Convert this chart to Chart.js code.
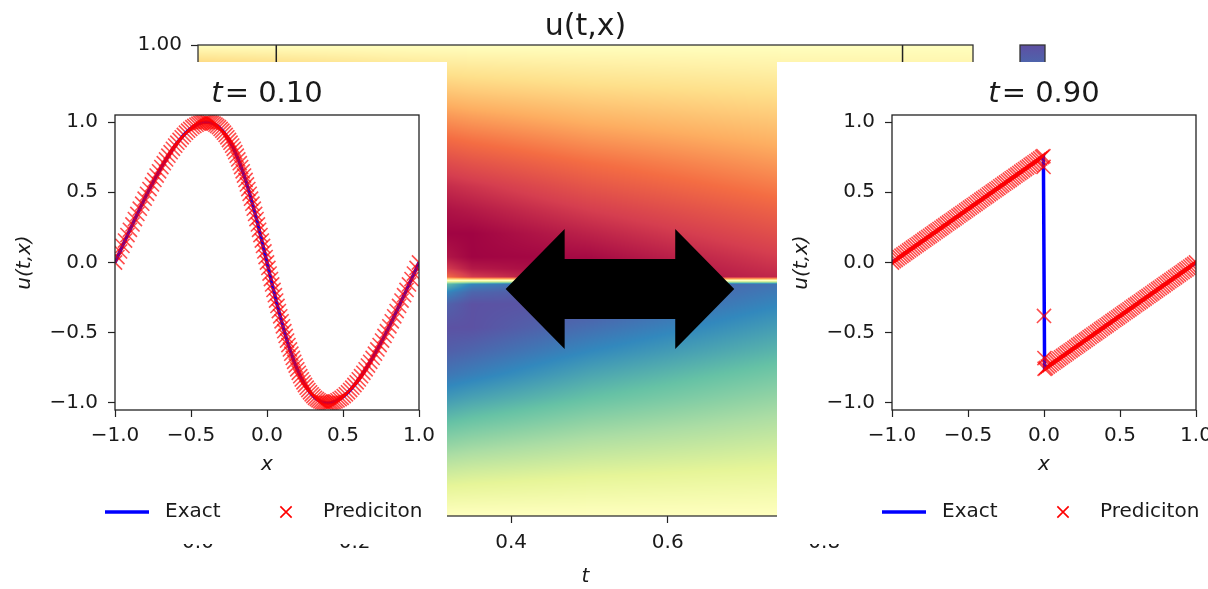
<!DOCTYPE html>
<html>
<head>
<meta charset="utf-8">
<script src="https://cdn.jsdelivr.net/npm/chart.js@4.4.1/dist/chart.umd.min.js"></script>
<style>
  body { margin: 0; background: #fff; }
  #page { position: relative; width: 1208px; height: 589px; overflow: hidden; background: #fff; }
  #heat { position: absolute; left: 0; top: 0; }
  .panel { position: absolute; top: 62px; width: 447px; height: 482px; background: #fff; }
</style>
</head>
<body>
<div id="page">
  <canvas id="heat" width="1208" height="589"></canvas>
  <div class="panel" style="left:0"><canvas id="snapA" width="447" height="482"></canvas></div>
  <div class="panel" style="left:777px"><canvas id="snapB" width="447" height="482"></canvas></div>
</div>
<script>
// u(t,x) grid: columns are t, rows are x from top (1) to bottom (-1)
const heatT = [0.0, 0.25, 0.35, 0.5, 0.75, 0.99];
const heatX = [1.0, 0.9, 0.8, 0.7, 0.6, 0.5, 0.4, 0.3, 0.2, 0.1, 0.05, 0.015,
               -0.015, -0.05, -0.1, -0.2, -0.3, -0.4, -0.5, -0.6, -0.7, -0.8, -0.9, -1.0];
const heatU = [
  [0.00, 0.00, 0.00, 0.00, 0.00, 0.00],
  [-0.31, -0.18, -0.15, -0.12, -0.09, -0.08],
  [-0.59, -0.35, -0.29, -0.24, -0.19, -0.16],
  [-0.81, -0.52, -0.44, -0.36, -0.28, -0.23],
  [-0.95, -0.67, -0.58, -0.48, -0.37, -0.31],
  [-1.00, -0.81, -0.71, -0.60, -0.46, -0.38],
  [-0.95, -0.92, -0.83, -0.70, -0.55, -0.45],
  [-0.81, -0.99, -0.92, -0.80, -0.64, -0.53],
  [-0.59, -0.99, -0.99, -0.89, -0.72, -0.60],
  [-0.31, -0.81, -0.99, -0.97, -0.80, -0.68],
  [-0.16, -0.57, -0.92, -0.99, -0.84, -0.71],
  [-0.05, -0.21, -0.81, -0.98, -0.87, -0.73],
  [0.05, 0.21, 0.81, 0.98, 0.87, 0.73],
  [0.16, 0.57, 0.92, 0.99, 0.84, 0.71],
  [0.31, 0.81, 0.99, 0.97, 0.80, 0.68],
  [0.59, 0.99, 0.99, 0.89, 0.72, 0.60],
  [0.81, 0.99, 0.92, 0.80, 0.64, 0.53],
  [0.95, 0.92, 0.83, 0.70, 0.55, 0.45],
  [1.00, 0.81, 0.71, 0.60, 0.46, 0.38],
  [0.95, 0.67, 0.58, 0.48, 0.37, 0.31],
  [0.81, 0.52, 0.44, 0.36, 0.28, 0.23],
  [0.59, 0.35, 0.29, 0.24, 0.19, 0.16],
  [0.31, 0.18, 0.15, 0.12, 0.09, 0.08],
  [0.00, 0.00, 0.00, 0.00, 0.00, 0.00]
];
const uMin = -1.0, uMax = 1.0;
const heatTTicks = [0.0, 0.2, 0.4, 0.6, 0.8];
const heatXTicks = [-1.0, -0.75, -0.5, -0.25, 0.0, 0.25, 0.5, 0.75, 1.0];
const snapTimes = [0.10, 0.90];
const arrowT = [0.393, 0.685];
const arrowX = -0.036;

// snapshot t = 0.10
const x10 = [
  -1.0, -0.984, -0.967, -0.951, -0.934, -0.918, -0.902, -0.885, -0.869, -0.853, -0.837, -0.821, -0.805, -0.789, -0.773, -0.757, -0.741, -0.726, -0.710, -0.695,
  -0.679, -0.664, -0.649, -0.634, -0.619, -0.604, -0.590, -0.575, -0.561, -0.547, -0.533, -0.519, -0.505, -0.491, -0.478, -0.464, -0.451, -0.438, -0.425, -0.413,
  -0.400, -0.388, -0.375, -0.363, -0.351, -0.339, -0.328, -0.316, -0.305, -0.294, -0.283, -0.272, -0.261, -0.250, -0.240, -0.229, -0.219, -0.209, -0.199, -0.189,
  -0.179, -0.170, -0.160, -0.151, -0.141, -0.132, -0.123, -0.114, -0.105, -0.096, -0.087, -0.078, -0.069, -0.060, -0.052, -0.043, -0.034, -0.026, -0.017, -0.009,
  0.0,
  0.009, 0.017, 0.026, 0.034, 0.043, 0.052, 0.060, 0.069, 0.078, 0.087, 0.096, 0.105, 0.114, 0.123, 0.132, 0.141, 0.151, 0.160, 0.170, 0.179,
  0.189, 0.199, 0.209, 0.219, 0.229, 0.240, 0.250, 0.261, 0.272, 0.283, 0.294, 0.305, 0.316, 0.328, 0.339, 0.351, 0.363, 0.375, 0.388, 0.400,
  0.413, 0.425, 0.438, 0.451, 0.464, 0.478, 0.491, 0.505, 0.519, 0.533, 0.547, 0.561, 0.575, 0.590, 0.604, 0.619, 0.634, 0.649, 0.664, 0.679,
  0.695, 0.710, 0.726, 0.741, 0.757, 0.773, 0.789, 0.805, 0.821, 0.837, 0.853, 0.869, 0.885, 0.902, 0.918, 0.934, 0.951, 0.967, 0.984, 1.0];
const u10 = [
  0.0, 0.039, 0.079, 0.118, 0.156, 0.195, 0.233, 0.271, 0.309, 0.346, 0.383, 0.419, 0.454, 0.489, 0.523, 0.556, 0.588, 0.619, 0.649, 0.679,
  0.707, 0.734, 0.760, 0.785, 0.809, 0.832, 0.853, 0.872, 0.891, 0.908, 0.924, 0.938, 0.951, 0.963, 0.972, 0.981, 0.988, 0.993, 0.997, 0.999,
  1.0, 0.999, 0.997, 0.993, 0.988, 0.981, 0.972, 0.963, 0.951, 0.938, 0.924, 0.908, 0.891, 0.872, 0.853, 0.832, 0.809, 0.785, 0.760, 0.734,
  0.707, 0.679, 0.649, 0.619, 0.588, 0.556, 0.523, 0.489, 0.454, 0.419, 0.383, 0.346, 0.309, 0.271, 0.233, 0.195, 0.156, 0.118, 0.079, 0.039,
  0.0,
  -0.039, -0.079, -0.118, -0.156, -0.195, -0.233, -0.271, -0.309, -0.346, -0.383, -0.419, -0.454, -0.489, -0.523, -0.556, -0.588, -0.619, -0.649, -0.679, -0.707,
  -0.734, -0.760, -0.785, -0.809, -0.832, -0.853, -0.872, -0.891, -0.908, -0.924, -0.938, -0.951, -0.963, -0.972, -0.981, -0.988, -0.993, -0.997, -0.999, -1.0,
  -0.999, -0.997, -0.993, -0.988, -0.981, -0.972, -0.963, -0.951, -0.938, -0.924, -0.908, -0.891, -0.872, -0.853, -0.832, -0.809, -0.785, -0.760, -0.734, -0.707,
  -0.679, -0.649, -0.619, -0.588, -0.556, -0.523, -0.489, -0.454, -0.419, -0.383, -0.346, -0.309, -0.271, -0.233, -0.195, -0.156, -0.118, -0.079, -0.039, 0.0];

// snapshot t = 0.90
const x90 = [
  -1.0, -0.9875, -0.975, -0.9625, -0.95, -0.9375, -0.925, -0.9125, -0.9, -0.8875, -0.875, -0.8625, -0.85, -0.8375, -0.825, -0.8125, -0.8, -0.7875, -0.775, -0.7625,
  -0.75, -0.7375, -0.725, -0.7125, -0.7, -0.6875, -0.675, -0.6625, -0.65, -0.6375, -0.625, -0.6125, -0.6, -0.5875, -0.575, -0.5625, -0.55, -0.5375, -0.525, -0.5125,
  -0.5, -0.4875, -0.475, -0.4625, -0.45, -0.4375, -0.425, -0.4125, -0.4, -0.3875, -0.375, -0.3625, -0.35, -0.3375, -0.325, -0.3125, -0.3, -0.2875, -0.275, -0.2625,
  -0.25, -0.2375, -0.225, -0.2125, -0.2, -0.1875, -0.175, -0.1625, -0.15, -0.1375, -0.125, -0.1125, -0.1, -0.0875, -0.075, -0.0625, -0.05, -0.0375, -0.025, -0.0125,
  -0.004, 0.004,
  0.0125, 0.025, 0.0375, 0.05, 0.0625, 0.075, 0.0875, 0.1, 0.1125, 0.125, 0.1375, 0.15, 0.1625, 0.175, 0.1875, 0.2, 0.2125, 0.225, 0.2375, 0.25,
  0.2625, 0.275, 0.2875, 0.3, 0.3125, 0.325, 0.3375, 0.35, 0.3625, 0.375, 0.3875, 0.4, 0.4125, 0.425, 0.4375, 0.45, 0.4625, 0.475, 0.4875, 0.5,
  0.5125, 0.525, 0.5375, 0.55, 0.5625, 0.575, 0.5875, 0.6, 0.6125, 0.625, 0.6375, 0.65, 0.6625, 0.675, 0.6875, 0.7, 0.7125, 0.725, 0.7375, 0.75,
  0.7625, 0.775, 0.7875, 0.8, 0.8125, 0.825, 0.8375, 0.85, 0.8625, 0.875, 0.8875, 0.9, 0.9125, 0.925, 0.9375, 0.95, 0.9625, 0.975, 0.9875, 1.0];
const u90 = [
  0.0, 0.010, 0.019, 0.029, 0.038, 0.048, 0.057, 0.067, 0.076, 0.086, 0.095, 0.105, 0.114, 0.124, 0.133, 0.143, 0.152, 0.162, 0.171, 0.181,
  0.190, 0.200, 0.209, 0.219, 0.228, 0.238, 0.247, 0.257, 0.266, 0.276, 0.285, 0.295, 0.304, 0.314, 0.323, 0.333, 0.342, 0.352, 0.361, 0.371,
  0.380, 0.390, 0.399, 0.409, 0.418, 0.428, 0.437, 0.447, 0.456, 0.466, 0.475, 0.485, 0.494, 0.504, 0.513, 0.523, 0.532, 0.542, 0.551, 0.561,
  0.570, 0.580, 0.589, 0.599, 0.608, 0.618, 0.627, 0.637, 0.646, 0.656, 0.665, 0.675, 0.684, 0.694, 0.703, 0.713, 0.722, 0.732, 0.741, 0.751,
  0.757, -0.757,
  -0.751, -0.741, -0.732, -0.722, -0.713, -0.703, -0.694, -0.684, -0.675, -0.665, -0.656, -0.646, -0.637, -0.627, -0.618, -0.608, -0.599, -0.589, -0.580, -0.570,
  -0.561, -0.551, -0.542, -0.532, -0.523, -0.513, -0.504, -0.494, -0.485, -0.475, -0.466, -0.456, -0.447, -0.437, -0.428, -0.418, -0.409, -0.399, -0.390, -0.380,
  -0.371, -0.361, -0.352, -0.342, -0.333, -0.323, -0.314, -0.304, -0.295, -0.285, -0.276, -0.266, -0.257, -0.247, -0.238, -0.228, -0.219, -0.209, -0.200, -0.190,
  -0.181, -0.171, -0.162, -0.152, -0.143, -0.133, -0.124, -0.114, -0.105, -0.095, -0.086, -0.076, -0.067, -0.057, -0.048, -0.038, -0.029, -0.019, -0.010, 0.0];
// stray predictions inside the shock
const shockX90 = [-0.003, 0.0, 0.003];
const shockU90 = [0.68, -0.38, -0.68];

const panelTicks = [-1.0, -0.5, 0.0, 0.5, 1.0];

const TXT = '#1a1a1a';
const FONT = 'DejaVu Sans';
Chart.defaults.font.family = FONT;
Chart.defaults.font.size = 20;
Chart.defaults.color = TXT;

const SPECTRAL = [[158,1,66],[213,62,79],[244,109,67],[253,174,97],[254,224,139],[255,255,191],
                  [230,245,152],[171,221,164],[102,194,165],[50,136,189],[94,79,162]];

function spectral(v) {
  let n = (v - uMin) / (uMax - uMin);
  n = Math.max(0, Math.min(1, n)) * 10;
  const i = Math.min(9, Math.floor(n)), f = n - i;
  const a = SPECTRAL[i], b = SPECTRAL[i + 1];
  return [a[0] + (b[0] - a[0]) * f, a[1] + (b[1] - a[1]) * f, a[2] + (b[2] - a[2]) * f];
}

// where v sits inside a monotone array: [index, fraction]
function bracket(arr, v) {
  for (let i = 0; i < arr.length - 1; i++) {
    const a = arr[i], b = arr[i + 1];
    if ((v - a) * (v - b) <= 0) return [i, (v - a) / (b - a)];
  }
  const first = Math.abs(v - arr[0]) < Math.abs(v - arr[arr.length - 1]);
  return first ? [0, 0] : [arr.length - 2, 1];
}

function fmt(digits) {
  return v => (v < 0 ? '\u2212' : '') + Math.abs(v).toFixed(digits);
}

function pts(xs, ys) {
  return xs.map((x, i) => ({ x: x, y: ys[i] }));
}

const heatLayer = {
  id: 'heatLayer',
  beforeDatasetsDraw(chart) {
    const { ctx, chartArea: a, scales: { x, y } } = chart;
    const w = Math.round(a.right - a.left), h = Math.round(a.bottom - a.top);
    const off = document.createElement('canvas');
    off.width = w; off.height = h;
    const octx = off.getContext('2d');
    const img = octx.createImageData(w, h);
    const cols = [];
    for (let i = 0; i < w; i++) cols.push(bracket(heatT, x.getValueForPixel(a.left + i + 0.5)));
    for (let j = 0; j < h; j++) {
      const [r, fr] = bracket(heatX, y.getValueForPixel(a.top + j + 0.5));
      for (let i = 0; i < w; i++) {
        const [c, fc] = cols[i];
        const top = heatU[r][c] + (heatU[r][c + 1] - heatU[r][c]) * fc;
        const bot = heatU[r + 1][c] + (heatU[r + 1][c + 1] - heatU[r + 1][c]) * fc;
        const rgb = spectral(top + (bot - top) * fr);
        const k = (j * w + i) * 4;
        img.data[k] = rgb[0]; img.data[k + 1] = rgb[1]; img.data[k + 2] = rgb[2]; img.data[k + 3] = 255;
      }
    }
    octx.putImageData(img, 0, 0);
    ctx.drawImage(off, a.left, a.top);
  },
  afterDatasetsDraw(chart) {
    const { ctx, chartArea: a, scales: { x, y } } = chart;
    ctx.save();
    // snapshot lines
    ctx.strokeStyle = '#222';
    ctx.lineWidth = 1.5;
    snapTimes.forEach(t => {
      const px = x.getPixelForValue(t);
      ctx.beginPath(); ctx.moveTo(px, a.top); ctx.lineTo(px, a.bottom); ctx.stroke();
    });
    // frame
    ctx.strokeStyle = '#333';
    ctx.lineWidth = 1.3;
    ctx.strokeRect(a.left, a.top, a.right - a.left, a.bottom - a.top);
    // double arrow
    const x0 = x.getPixelForValue(arrowT[0]), x1 = x.getPixelForValue(arrowT[1]);
    const yc = y.getPixelForValue(arrowX);
    const hl = 59, hh = 60, sh = 30;
    ctx.fillStyle = '#000';
    ctx.beginPath();
    ctx.moveTo(x0, yc);
    ctx.lineTo(x0 + hl, yc - hh); ctx.lineTo(x0 + hl, yc - sh);
    ctx.lineTo(x1 - hl, yc - sh); ctx.lineTo(x1 - hl, yc - hh);
    ctx.lineTo(x1, yc);
    ctx.lineTo(x1 - hl, yc + hh); ctx.lineTo(x1 - hl, yc + sh);
    ctx.lineTo(x0 + hl, yc + sh); ctx.lineTo(x0 + hl, yc + hh);
    ctx.closePath();
    ctx.fill();
    // colorbar
    const cbL = 1020, cbW = 25;
    const grad = ctx.createLinearGradient(0, a.top, 0, a.bottom);
    SPECTRAL.forEach((c, i) => grad.addColorStop(1 - i / 10, 'rgb(' + c.join(',') + ')'));
    ctx.fillStyle = grad;
    ctx.fillRect(cbL, a.top, cbW, a.bottom - a.top);
    ctx.strokeStyle = '#333';
    ctx.strokeRect(cbL, a.top, cbW, a.bottom - a.top);
    // title
    ctx.fillStyle = TXT;
    ctx.font = '30px "' + FONT + '"';
    ctx.textAlign = 'center';
    ctx.textBaseline = 'alphabetic';
    ctx.fillText('u(t,x)', (a.left + a.right) / 2, 35);
    ctx.restore();
  }
};

new Chart(document.getElementById('heat'), {
  type: 'scatter',
  data: { datasets: [] },
  options: {
    responsive: false,
    animation: false,
    devicePixelRatio: 1,
    layout: { padding: { top: 45, right: 235, bottom: 0, left: 0 } },
    plugins: { legend: { display: false }, tooltip: { enabled: false } },
    scales: {
      x: {
        type: 'linear', min: 0, max: 0.99,
        afterBuildTicks: s => { s.ticks = heatTTicks.map(v => ({ value: v })); },
        afterFit: s => { s.height = 73; },
        ticks: { callback: fmt(1), padding: 8, maxRotation: 0, autoSkip: false },
        grid: { drawOnChartArea: false, tickLength: 7, tickColor: '#222', tickWidth: 1.2 },
        border: { display: false },
        title: { display: true, text: 't', font: { style: 'italic', size: 20 }, padding: 0 }
      },
      y: {
        type: 'linear', min: -1, max: 1,
        afterBuildTicks: s => { s.ticks = heatXTicks.map(v => ({ value: v })); },
        afterFit: s => { s.width = 198; },
        ticks: { callback: fmt(2), padding: 9, autoSkip: false },
        grid: { drawOnChartArea: false, tickLength: 7, tickColor: '#222', tickWidth: 1.2 },
        border: { display: false }
      }
    }
  },
  plugins: [heatLayer]
});

// frame, title and legend of one snapshot panel
function panelDecor(tLabel) {
  return {
    id: 'panelDecor',
    afterDatasetsDraw(chart) {
      const { ctx, chartArea: a } = chart;
      ctx.save();
      ctx.strokeStyle = '#222';
      ctx.lineWidth = 1.3;
      ctx.strokeRect(a.left, a.top, a.right - a.left, a.bottom - a.top);
      ctx.restore();
    },
    afterDraw(chart) {
      const { ctx, chartArea: a } = chart;
      const exact = chart.data.datasets[0], pred = chart.data.datasets[1];
      ctx.save();
      ctx.fillStyle = TXT;
      ctx.textBaseline = 'alphabetic';
      ctx.textAlign = 'left';
      // title  t = 0.10
      const it = 'italic 29px "' + FONT + '"', rm = '29px "' + FONT + '"';
      ctx.font = it; const wt = ctx.measureText('t').width;
      ctx.font = rm; const rest = '= ' + tLabel; const wr = ctx.measureText(rest).width;
      const cx = (a.left + a.right) / 2, x0 = cx - (wt + wr + 2) / 2;
      ctx.font = it; ctx.fillText('t', x0, 40);
      ctx.font = rm; ctx.fillText(rest, x0 + wt + 2, 40);
      // legend
      const ly = 450;
      ctx.strokeStyle = exact.borderColor;
      ctx.lineWidth = exact.borderWidth;
      ctx.beginPath(); ctx.moveTo(105, ly); ctx.lineTo(149, ly); ctx.stroke();
      ctx.strokeStyle = '#ff0000';
      ctx.lineWidth = 1.6;
      Chart.helpers.drawPoint(ctx, { pointStyle: 'crossRot', radius: 8, borderWidth: 1.6, rotation: 0 }, 286, ly);
      ctx.font = '20px "' + FONT + '"';
      ctx.textBaseline = 'middle';
      ctx.fillText(exact.label, 165, ly);
      ctx.fillText(pred.label, 323, ly);
      ctx.restore();
    }
  };
}

function makeSnapshot(id, tLabel, exactPts, predPts) {
  const axisGrid = { drawOnChartArea: false, tickLength: 7, tickColor: '#222', tickWidth: 1.2 };
  return new Chart(document.getElementById(id), {
    type: 'scatter',
    data: {
      datasets: [
        { label: 'Exact', data: exactPts, showLine: true, borderColor: '#0000ff', borderWidth: 3.5,
          pointRadius: 0, order: 1 },
        { label: 'Prediciton', data: predPts, showLine: false, pointStyle: 'crossRot', pointRadius: 10,
          pointBorderWidth: 1.6, pointBorderColor: 'rgba(255,0,0,0.7)', borderColor: 'rgba(255,0,0,0.7)',
          backgroundColor: 'rgba(0,0,0,0)', order: 0 }
      ]
    },
    options: {
      responsive: false,
      animation: false,
      devicePixelRatio: 1,
      layout: { padding: { top: 53, right: 28, bottom: 67, left: 0 } },
      plugins: { legend: { display: false }, tooltip: { enabled: false } },
      scales: {
        x: {
          type: 'linear', min: -1, max: 1,
          afterBuildTicks: s => { s.ticks = panelTicks.map(v => ({ value: v })); },
          afterFit: s => { s.height = 67; },
          ticks: { callback: fmt(1), padding: 7, maxRotation: 0, autoSkip: false },
          grid: axisGrid,
          border: { display: false },
          title: { display: true, text: 'x', font: { style: 'italic', size: 20 }, padding: 0 }
        },
        y: {
          type: 'linear', min: -1.05, max: 1.05,
          afterBuildTicks: s => { s.ticks = panelTicks.map(v => ({ value: v })); },
          afterFit: s => { s.width = 115; },
          ticks: { callback: fmt(1), padding: 10, autoSkip: false },
          grid: axisGrid,
          border: { display: false },
          title: { display: true, text: 'u(t,x)', font: { style: 'italic', size: 20 }, padding: { top: 13, bottom: 0 } }
        }
      }
    },
    plugins: [panelDecor(tLabel)]
  });
}

makeSnapshot('snapA', snapTimes[0].toFixed(2), pts(x10, u10), pts(x10, u10));
makeSnapshot('snapB', snapTimes[1].toFixed(2), pts(x90, u90), pts(x90, u90).concat(pts(shockX90, shockU90)));
</script>
</body>
</html>
